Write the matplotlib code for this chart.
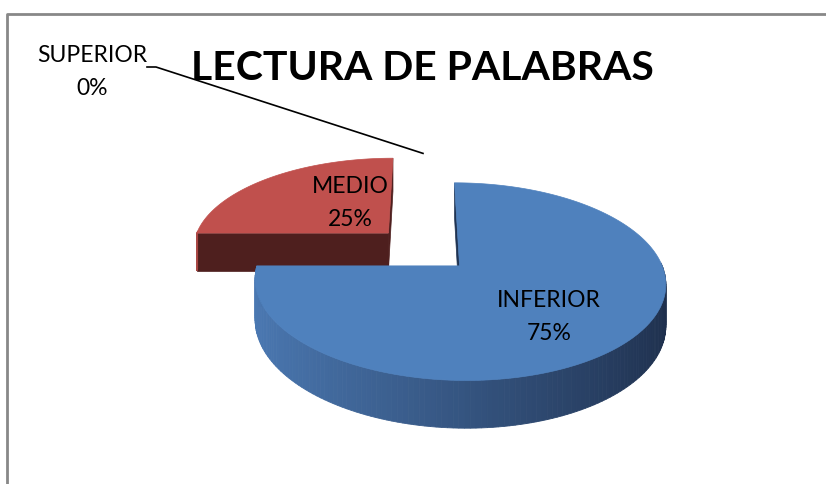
import numpy as np
import matplotlib.pyplot as plt
from matplotlib.patches import Polygon

labels = ["INFERIOR", "MEDIO", "SUPERIOR"]
values = [75, 25, 0]
top_colors = ["#4F81BD", "#C0504D", "#9BBB59"]
face_colors = ["#1F3352", "#4E1F1E", "#3E4C24"]
side_light = ["#4B79B3", "#A84542", "#8AA750"]
side_dark = ["#1E2F4C", "#4A1C1B", "#3A4720"]
title = "LECTURA DE PALABRAS"

# pie geometry in pixel space (y grows downward)
CX, CY = 423, 249
RX, RY = 197, 91
PERSP = 0.155
DEPTH = 39
EXPLODE = 0.255


def proj(u, v, z=0.0):
    k = 1.0 / (1.0 + PERSP * v)
    return CX + RX * u * k, CY - RY * v * k + DEPTH * z * k


def mix(c1, c2, f):
    a = np.array(plt.matplotlib.colors.to_rgb(c1))
    b = np.array(plt.matplotlib.colors.to_rgb(c2))
    return tuple(a * (1 - f) + b * f)


plt.rcParams['font.family'] = ['Lato', 'DejaVu Sans']
fig = plt.figure(figsize=(8.26, 4.84), dpi=100)
ax = fig.add_axes([0, 0, 1, 1])
ax.set_xlim(0, 826)
ax.set_ylim(484, 0)
ax.axis("off")

# chart frame
ax.plot([7, 7, 826], [484, 14, 14], color="#888888", lw=2, solid_capstyle="butt")

total = sum(values)
start = 90.0
slices = []
for lab, val in zip(labels, values):
    sweep = 360.0 * val / total
    t1, t2 = start, start - sweep
    mid = np.radians((t1 + t2) / 2)
    au, av = EXPLODE * np.cos(mid), EXPLODE * np.sin(mid)
    slices.append((t1, t2, au, av, mid))
    start = t2

# draw back slices first
order = sorted(range(len(values)), key=lambda i: -slices[i][3])
for i in order:
    if values[i] == 0:
        continue
    t1, t2, au, av, mid = slices[i]
    th = np.radians(np.linspace(t2, t1, 200))
    ru = au + np.cos(th)
    rv = av + np.sin(th)

    # radial side faces
    for t in (t1, t2):
        e = np.radians(t)
        pts = [proj(au, av, 0), proj(au + np.cos(e), av + np.sin(e), 0),
               proj(au + np.cos(e), av + np.sin(e), 1), proj(au, av, 1)]
        ax.add_patch(Polygon(pts, closed=True, fc=face_colors[i],
                             ec=face_colors[i], lw=0.5))

    # curved outer side, shaded from left to right
    for j in range(len(th) - 1):
        if np.sin(th[j]) > 0.02 and np.sin(th[j + 1]) > 0.02:
            continue
        f = (np.cos((th[j] + th[j + 1]) / 2) + 1) / 2
        col = mix(side_light[i], side_dark[i], f)
        pts = [proj(ru[j], rv[j], 0), proj(ru[j + 1], rv[j + 1], 0),
               proj(ru[j + 1], rv[j + 1], 1), proj(ru[j], rv[j], 1)]
        ax.add_patch(Polygon(pts, closed=True, fc=col, ec=col, lw=0.6))

    # top surface
    top = [proj(au, av, 0)] + [proj(u, v, 0) for u, v in zip(ru, rv)]
    ax.add_patch(Polygon(top, closed=True, fc=top_colors[i],
                         ec=top_colors[i], lw=0.5))

# data labels
label_pos = {"INFERIOR": (549, 317), "MEDIO": (350, 203)}
for lab, val in zip(labels, values):
    if lab in label_pos:
        x, y = label_pos[lab]
        ax.text(x, y, f"{lab}\n{val}%", ha="center", va="center",
                fontsize=16.5, linespacing=1.7, color="black")

# zero-size slice label with leader line
t1, t2, au, av, mid = slices[2]
ex, ey = proj(au + np.cos(mid), av + np.sin(mid), 0)
ax.plot([147, 156, ex], [67, 67, ey], color="black", lw=1.2)
ax.text(92, 72, f"{labels[2]}\n{values[2]}%", ha="center", va="center",
        fontsize=16.5, linespacing=1.7, color="black")

ax.text(422, 69, title, ha="center", va="center", fontsize=29.4,
        fontweight="bold", color="black")

fig.savefig("out.png", dpi=100)
